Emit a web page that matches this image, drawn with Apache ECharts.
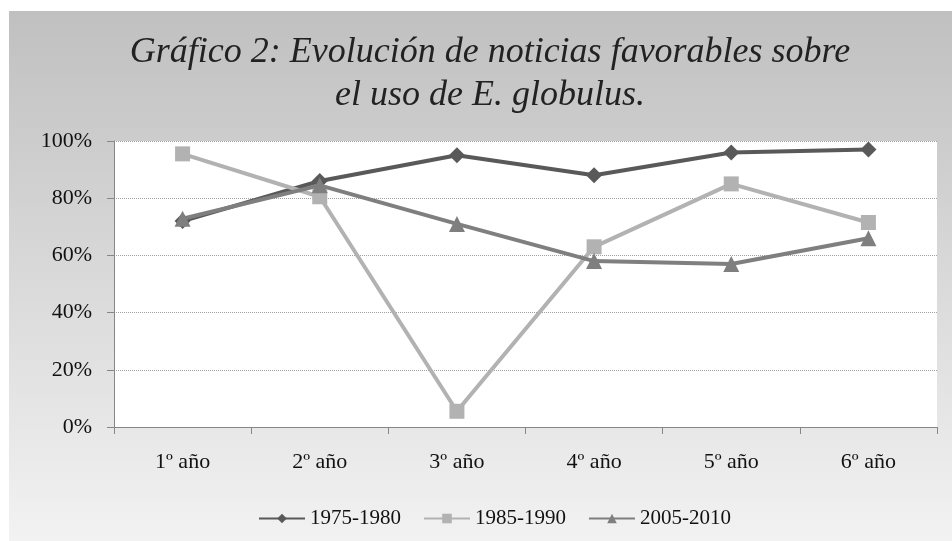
<!DOCTYPE html>
<html><head><meta charset="utf-8">
<script src="https://cdn.jsdelivr.net/npm/echarts@6/dist/echarts.min.js"></script>
<style>html,body{margin:0;padding:0;background:#fff;}#c{width:952px;height:541px;}</style>
</head><body><div id="c"></div>
<script>
var categories = ['1º año','2º año','3º año','4º año','5º año','6º año'];
var s1975 = [72, 86, 95, 88, 96, 97];
var s1985 = [95.5, 80.5, 5.5, 63, 85, 71.5];
var s2005 = [72.8, 84.5, 71, 58, 57, 66];
var yTicks = [0, 20, 40, 60, 80, 100];
var seriesNames = ['1975-1980','1985-1990','2005-2010'];

var chart = echarts.init(document.getElementById('c'), null, {renderer:'canvas'});
var serif = 'Liberation Serif, Times New Roman, serif';
function mk(name, data, color, symbol, size, z){
  return {name:name, type:'line', data:data, symbol:symbol, symbolSize:size, z:z,
    lineStyle:{color:color, width:4}, itemStyle:{color:color}, animation:false};
}
chart.setOption({
  animation:false,
  graphic:[{type:'rect', z:-10, silent:true, shape:{x:9,y:11,width:943,height:530},
    style:{fill:new echarts.graphic.LinearGradient(0,0,0,1,[{offset:0,color:'#c0c0c0'},{offset:1,color:'#f2f2f2'}])}}],
  title:{text:'Gráfico 2: Evolución de noticias favorables sobre\nel uso de E. globulus.', left:485, textAlign:'center', top:26,
    textStyle:{fontFamily:serif, fontStyle:'italic', fontWeight:'normal', fontSize:36, lineHeight:43, color:'#222'}},
  grid:{left:114, right:15, top:141, bottom:114, show:true, backgroundColor:'#fff', borderWidth:0},
  legend:{bottom:7, left:253, itemWidth:46, itemHeight:12, itemGap:22,
    textStyle:{fontFamily:serif, fontSize:21, color:'#111'}, data:seriesNames},
  xAxis:{type:'category', data:categories, boundaryGap:true,
    axisLine:{lineStyle:{color:'#868686', width:1}},
    axisTick:{show:true, length:7, lineStyle:{color:'#868686'}},
    axisLabel:{margin:24, fontFamily:serif, fontSize:22, color:'#111'}},
  yAxis:{type:'value', min:0, max:100, interval:20,
    axisLine:{show:true, lineStyle:{color:'#868686', width:1}},
    axisTick:{show:true, length:7, lineStyle:{color:'#868686'}},
    axisLabel:{margin:22, fontFamily:serif, fontSize:22, color:'#111', padding:[6,0,0,0], formatter:function(v){return yTicks.indexOf(v)>=0? v+'%' : '';}},
    splitLine:{lineStyle:{color:'#a0a0a0', type:'dotted', width:1}}},
  series:[
    mk(seriesNames[0], s1975, '#595959', 'diamond', 16, 2),
    mk(seriesNames[1], s1985, '#b2b2b2', 'rect', 15, 3),
    mk(seriesNames[2], s2005, '#7f7f7f', 'triangle', 16, 4)
  ]
});
</script></body></html>
